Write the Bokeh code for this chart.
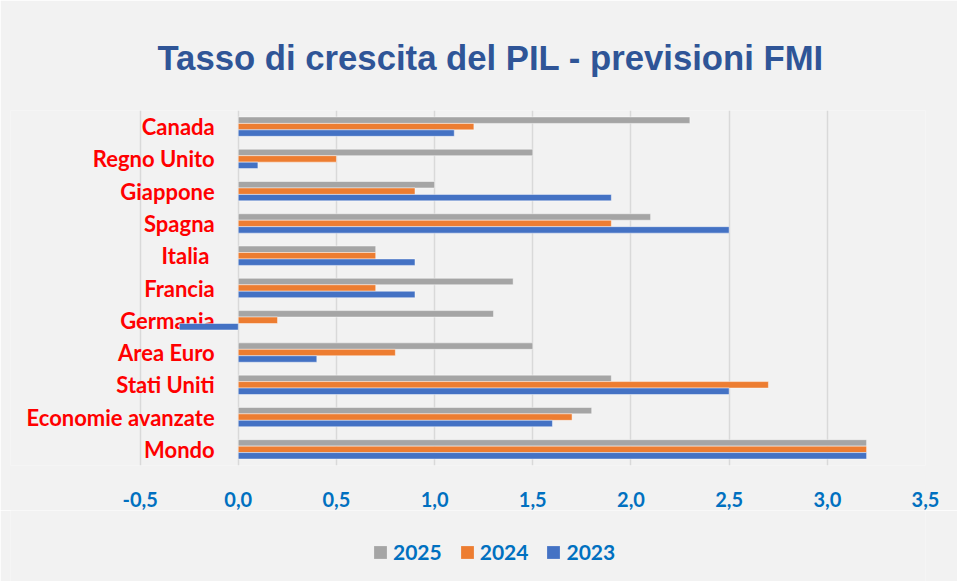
from bokeh.plotting import figure
from bokeh.layouts import column
from bokeh.models import (FactorRange, Range1d, FixedTicker, CustomJSTickFormatter,
                          Legend, LegendItem, ColumnDataSource)
from bokeh.transform import dodge
from bokeh.core.properties import value
from bokeh.embed import file_html
from bokeh.resources import INLINE

# ---- data (bottom to top) ----
categories = ["Mondo", "Economie avanzate", "Stati Uniti", "Area Euro", "Germania",
              "Francia", "Italia ", "Spagna", "Giappone", "Regno Unito", "Canada"]
v2025 = [3.2, 1.8, 1.9, 1.5, 1.3, 1.4, 0.7, 2.1, 1.0, 1.5, 2.3]
v2024 = [3.2, 1.7, 2.7, 0.8, 0.2, 0.7, 0.7, 1.9, 0.9, 0.5, 1.2]
v2023 = [3.2, 1.6, 2.5, 0.4, -0.3, 0.9, 0.9, 2.5, 1.9, 0.1, 1.1]
x_ticks = [-0.5, 0.0, 0.5, 1.0, 1.5, 2.0, 2.5, 3.0, 3.5]
series_names = ["2025", "2024", "2023"]
series_colors = ["#A5A5A5", "#ED7D31", "#4472C4"]
title_text = "Tasso di crescita del PIL - previsioni FMI"

src = ColumnDataSource(dict(cat=categories, y2025=v2025, y2024=v2024, y2023=v2023))

BG = "#F2F2F2"
W = 957
H_LEG = 71
p = figure(width=W, height=581 - H_LEG,
           y_range=FactorRange(*categories),
           x_range=Range1d(-1.16, 3.5),
           output_backend="svg", toolbar_location=None,
           y_axis_location=None,
           min_border_left=10, min_border_right=32,
           min_border_top=110, min_border_bottom=45,
           background_fill_color=BG, border_fill_color=BG,
           outline_line_color=None, title=title_text)

p.title.align = "left"
p.title.offset = 147
p.title.text_font = "Liberation Sans"
p.title.text_font_style = "bold"
p.title.text_font_size = "34.7px"
p.title.text_color = "#2F5597"
p.title.standoff = 68

# category labels drawn inside the left part of the frame
p.text(x=-0.12, y="cat", text="cat", source=src,
       text_align="right", text_baseline="middle",
       text_font=value("Lato"), text_font_style="bold",
       text_font_size="22px", text_color="#FF0000")

offsets = [0.2, 0.0, -0.2]
fields = ["y2025", "y2024", "y2023"]
for f, off, c in zip(fields, offsets, series_colors):
    p.hbar(y=dodge("cat", off, range=p.y_range), left=0, right=f, height=0.2,
           source=src, fill_color=c, line_color="white", line_alpha=0.45, line_width=1)

# x axis
p.xaxis.ticker = FixedTicker(ticks=x_ticks)
p.xaxis.formatter = CustomJSTickFormatter(code="return tick.toFixed(1).replace('.', ',');")
p.xaxis.axis_line_color = None
p.xaxis.major_tick_line_color = None
p.xaxis.minor_tick_line_color = None
p.xaxis.major_label_standoff = 20
p.xaxis.major_label_text_font = "Lato"
p.xaxis.major_label_text_font_style = "bold"
p.xaxis.major_label_text_font_size = "20px"
p.xaxis.major_label_text_color = "#0070C0"

p.xgrid.grid_line_color = "#D9D9D9"
p.xgrid.grid_line_width = 1.5
p.ygrid.grid_line_color = None

# ---- legend strip below the chart (same series, zero-height bars out of view) ----
leg = figure(width=W, height=H_LEG, x_range=Range1d(-101, -100),
             y_range=FactorRange(*categories),
             output_backend="svg", toolbar_location=None,
             x_axis_location=None, y_axis_location=None,
             min_border=0, min_border_left=0, min_border_right=0,
             min_border_top=0, min_border_bottom=0,
             background_fill_color=BG, border_fill_color=BG,
             outline_line_color=None)
leg.grid.grid_line_color = None
leg_renderers = []
for f, c in zip(fields, series_colors):
    r = leg.hbar(y="cat", left=0, right=f, height=0, source=src, fill_color=c,
                 line_color=None)
    leg_renderers.append(r)

legend = Legend(items=[LegendItem(label=n, renderers=[r]) for n, r in zip(series_names, leg_renderers)],
                location=(362, 17), orientation="horizontal",
                padding=0, margin=0, spacing=17, label_standoff=5,
                glyph_width=16, glyph_height=16,
                label_text_font="Lato", label_text_font_style="bold",
                label_text_font_size="21px", label_text_color="#0070C0",
                background_fill_alpha=0, border_line_color=None)
leg.add_layout(legend, "center")

layout = column(p, leg, spacing=0)
open("out.html", "w").write(file_html(layout, INLINE))
